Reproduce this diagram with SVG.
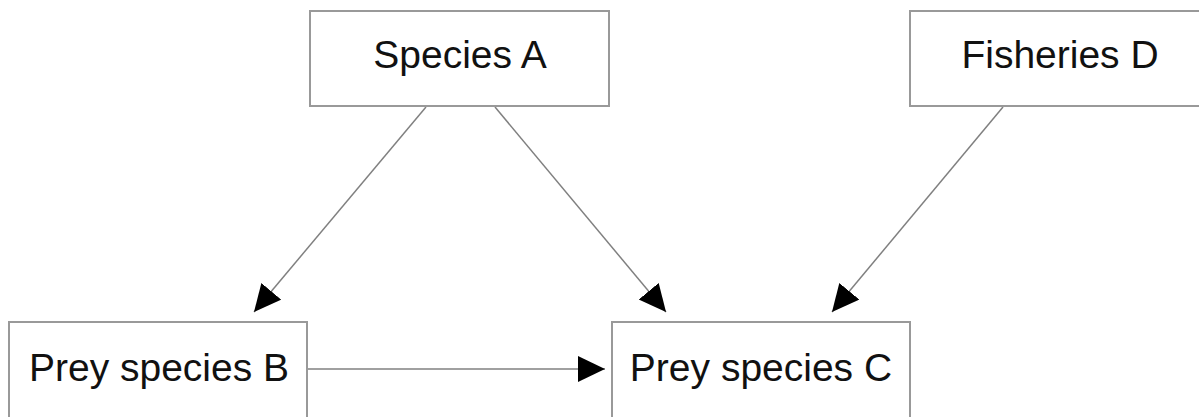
<svg xmlns="http://www.w3.org/2000/svg" width="1199" height="417" viewBox="0 0 1199 417">
<style>
.box{fill:#fff;stroke:#999;stroke-width:2}
.lbl{font-family:"Liberation Sans",Arial,sans-serif;font-size:39px;fill:#111;text-anchor:middle}
.edge{stroke:#808080;stroke-width:1.5;fill:none}
</style>
<defs>
<marker id="arr" markerUnits="userSpaceOnUse" markerWidth="28" markerHeight="28" refX="27" refY="13" orient="auto" viewBox="0 0 28 28">
<path d="M0,0 L27,13 L0,26 z" fill="#000"/>
</marker>
</defs>
<rect width="1199" height="417" fill="#fff"/>
<g id="connectors">
<line class="edge" x1="426" y1="107" x2="254" y2="312" marker-end="url(#arr)"/>
<line class="edge" x1="495" y1="107" x2="666" y2="312" marker-end="url(#arr)"/>
<line class="edge" x1="1003" y1="107" x2="832" y2="312" marker-end="url(#arr)"/>
<line class="edge" x1="307" y1="369" x2="605" y2="369" marker-end="url(#arr)"/>
</g>
<g id="speciesA">
<rect class="box" x="310" y="11" width="299" height="95"/>
<text class="lbl" x="460" y="68">Species A</text>
</g>
<g id="fisheriesD">
<rect class="box" x="910" y="11" width="300" height="95"/>
<text class="lbl" x="1060" y="68">Fisheries D</text>
</g>
<g id="preyB">
<rect class="box" x="9" y="322" width="298" height="110"/>
<text class="lbl" x="159" y="381">Prey species B</text>
</g>
<g id="preyC">
<rect class="box" x="612" y="322" width="298" height="110"/>
<text class="lbl" x="761" y="381">Prey species C</text>
</g>
</svg>
